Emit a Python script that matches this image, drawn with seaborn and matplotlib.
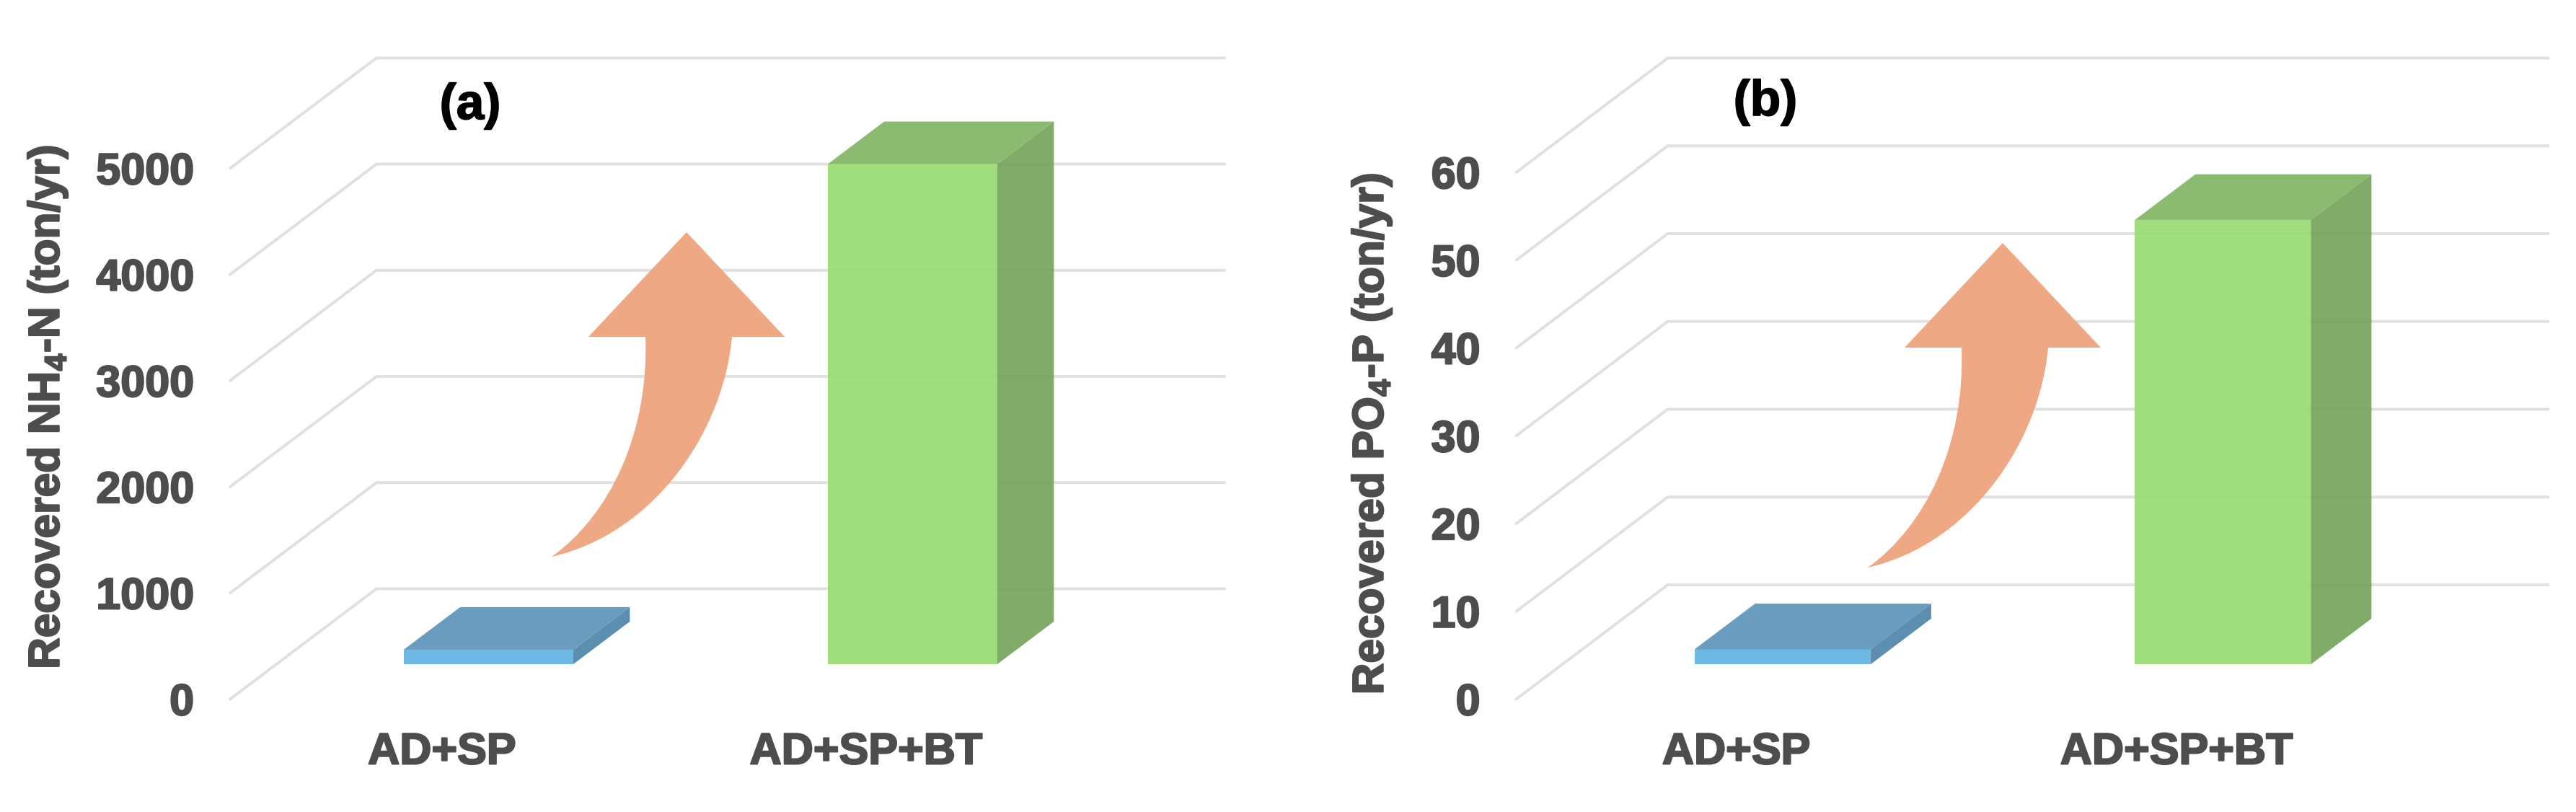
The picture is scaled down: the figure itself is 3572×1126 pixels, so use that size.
import matplotlib
matplotlib.use("Agg")
import matplotlib.pyplot as plt
import matplotlib.patheffects as pe
from matplotlib.patches import Polygon, PathPatch
from matplotlib.path import Path
from matplotlib.transforms import Affine2D
import seaborn as sns

# Data
categories = ["AD+SP", "AD+SP+BT"]
nh4_values = [136, 4710]
po4_values = [1.7, 50.6]
nh4_ticks = [0, 1000, 2000, 3000, 4000, 5000]
po4_ticks = [0, 10, 20, 30, 40, 50, 60]
nh4_label = r"Recovered NH$_{\mathbf{4}}$-N (ton/yr)"
po4_label = r"Recovered PO$_{\mathbf{4}}$-P (ton/yr)"

front_colors = ["#62B3E1", "#98DB73"]
top_colors = ["#5D94BB", "#81B564"]
side_colors = ["#4E85A8", "#75A45B"]
text_color = "#4D4D4D"
grid_color = "#E0E0E0"
arrow_color = "#EEA47C"

W, H = 3573, 1126

sns.set_style("white")
plt.rcParams["font.family"] = ["Liberation Sans", "DejaVu Sans"]
plt.rcParams["font.weight"] = "bold"
plt.rcParams["mathtext.fontset"] = "custom"
plt.rcParams["mathtext.bf"] = "Liberation Sans:bold"
plt.rcParams["mathtext.rm"] = "Liberation Sans:bold"

fig = plt.figure(figsize=(W / 100, H / 100), dpi=100, facecolor="white")
# helper transform, image pixels with y going down
px = Affine2D().scale(1 / W, -1 / H).translate(0, 1) + fig.transFigure


def draw_arrow(dx, dy):
    # curved arrow, shape in pixels relative to tip of the arrow
    verts = [(0, 0), (136, 145), (63, 145), (51, 278), (-46, 418), (-187, 450),
             (-106, 392), (-52, 278), (-57, 145), (-136, 145), (0, 0)]
    verts = [(x + dx, y + dy) for x, y in verts]
    codes = [Path.MOVETO, Path.LINETO, Path.LINETO, Path.CURVE4, Path.CURVE4, Path.CURVE4,
             Path.CURVE4, Path.CURVE4, Path.CURVE4, Path.LINETO, Path.CLOSEPOLY]
    fig.add_artist(PathPatch(Path(verts, codes), facecolor=arrow_color, edgecolor="none",
                             alpha=0.95, transform=px, zorder=10))


def draw_panel(box, values, ticks, ylabel, label_xy, letter, letter_xy, wall_px, depth_px, depth_range):
    left, right, top, bottom = box
    ax = fig.add_axes([left / W, 1 - bottom / H, (right - left) / W, (bottom - top) / H])
    ax.set_facecolor("none")
    sns.barplot(x=categories, y=values, hue=categories, palette=front_colors, width=0.4,
                saturation=1, alpha=0.92, linewidth=0, legend=False, ax=ax, zorder=3)
    ax.set_xlim(-0.5, 1.5)
    ax.set_ylim(ticks[0], ticks[-1])

    # depth of floor in data units
    depth_x = wall_px / ((right - left) / 2)
    depth_y = depth_px / (bottom - top) * ticks[-1]

    def proj(x, v, d):
        return (x + d * depth_x, v + d * depth_y)

    for v in ticks:
        p0 = proj(-0.5, v, 0)
        p1 = proj(-0.5, v, 1)
        p2 = proj(1.5, v, 1)
        ax.plot([p0[0], p1[0], p2[0]], [p0[1], p1[1], p2[1]], color=grid_color, lw=2.8,
                clip_on=False, zorder=1, solid_joinstyle="miter")

    d0, d1 = depth_range
    for i, bar in enumerate(ax.patches):
        x0 = bar.get_x()
        x1 = x0 + bar.get_width()
        v = bar.get_height()
        bar.set_x(x0 + d0 * depth_x)
        bar.set_y(d0 * depth_y)
        bar.set_clip_on(False)
        top_face = [proj(x0, v, d0), proj(x1, v, d0), proj(x1, v, d1), proj(x0, v, d1)]
        side_face = [proj(x1, 0, d0), proj(x1, v, d0), proj(x1, v, d1), proj(x1, 0, d1)]
        ax.add_patch(Polygon(top_face, facecolor=top_colors[i], edgecolor="none", alpha=0.92,
                             clip_on=False, zorder=3))
        ax.add_patch(Polygon(side_face, facecolor=side_colors[i], edgecolor="none", alpha=0.92,
                             clip_on=False, zorder=3))

    ax.set_yticks(ticks)
    ax.tick_params(axis="y", length=0, pad=36, labelsize=44, labelcolor=text_color)
    ax.tick_params(axis="x", length=0, pad=33, labelsize=44, labelcolor=text_color)
    ax.set_xlabel("")
    ax.set_ylabel(ylabel, fontsize=43.5, color=text_color, fontweight="bold")
    ax.yaxis.set_label_coords(label_xy[0], label_xy[1], transform=px)
    sns.despine(ax=ax, left=True, bottom=True)

    # source text is heavier than plain bold
    thick = [pe.withStroke(linewidth=1.6, foreground=text_color)]
    for t in ax.get_xticklabels() + ax.get_yticklabels() + [ax.yaxis.label]:
        t.set_path_effects(thick)
    letter_text = ax.text(letter_xy[0], letter_xy[1], letter, transform=px, fontsize=50,
                          fontweight="bold", color="black", ha="center", va="center", zorder=12)
    letter_text.set_path_effects([pe.withStroke(linewidth=1.2, foreground="black")])
    return ax


draw_panel((319, 1495, 233.4, 969.5), nh4_values, nh4_ticks, nh4_label, (96, 565),
           "(a)", (652, 147), 203, 153, (0.317, 0.703))
draw_panel((2102.5, 3323.5, 239, 969.5), po4_values, po4_ticks, po4_label, (1932, 602),
           "(b)", (2448, 142), 210, 158.5, (0.306, 0.705))

draw_arrow(952, 322)
draw_arrow(2777, 337)

fig.savefig("out.png", dpi=100, facecolor="white")
plt.close(fig)
